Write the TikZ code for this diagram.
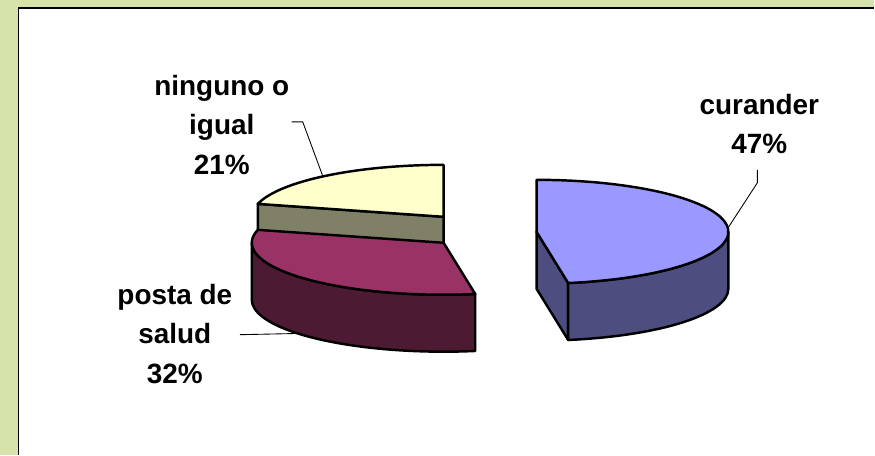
\documentclass[tikz,border=0pt]{standalone}
\usepackage{fontspec}
\setmainfont{Liberation Sans}
\usetikzlibrary{calc}
\definecolor{fond}{RGB}{214,228,171}
\definecolor{jaune}{RGB}{255,255,204}
\definecolor{grisv}{RGB}{128,128,102}
\definecolor{rose}{RGB}{153,51,102}
\definecolor{roseb}{RGB}{77,26,51}
\definecolor{bleu}{RGB}{153,153,255}
\definecolor{bleub}{RGB}{77,77,128}
\tikzset{
  part/.style={draw=black,line width=1.4pt,line join=round},
  lab/.style={align=center,inner sep=0pt,font=\bfseries\fontsize{15.9}{22.5}\selectfont},
  trait/.style={draw=black,line width=0.5pt}
}
\begin{document}
\begin{tikzpicture}[x=0.02cm,y=-0.02cm]
          %cadre
          \fill[fond] (0,0) rectangle (875,455);
          \fill[white] (18.5,8) rectangle (875,455);
          \draw[line width=0.9pt] (18.5,455) -- (18.5,8) -- (875,8);
          \useasboundingbox (0,0) rectangle (875,455);
          %centres des parts, rayons 192 et 52, epaisseur 57
          \coordinate (Y) at (444,217);
          \coordinate (M) at (444,243);
          \coordinate (B) at (537,232);
          \coordinate (Y1) at ($(Y)+({192*cos(165.6)},{-52*sin(165.6)})$);
          \coordinate (M1) at ($(M)+({192*cos(165.6)},{-52*sin(165.6)})$);
          \coordinate (B1) at ($(B)+({192*cos(279.5)},{-52*sin(279.5)})$);
          %part ninguno
          \path[part,fill=grisv] (Y) -- (Y1) -- ++(0,57) -- ($(Y)+(0,57)$) -- cycle;
          \path[part,fill=jaune] (Y) -- ($(Y)+(0,-52)$)
                arc[start angle=-90,end angle=-165.6,x radius=192,y radius=52] -- cycle;
          %part posta de salud
          \path[part,fill=roseb] ($(M)+(-192,0)$)
                arc[start angle=-180,end angle=-279.5,x radius=192,y radius=52] -- ++(0,57)
                arc[start angle=-279.5,end angle=-180,x radius=192,y radius=52] -- cycle;
          \path[part,fill=rose] (M) -- (M1)
                arc[start angle=-165.6,end angle=-279.5,x radius=192,y radius=52] -- cycle;
          %part curander
          \path[part,fill=bleub] (B) -- (B1) -- ++(0,57) -- ($(B)+(0,57)$) -- cycle;
          \path[part,fill=bleub] (B1)
                arc[start angle=-279.5,end angle=-360,x radius=192,y radius=52] -- ++(0,57)
                arc[start angle=-360,end angle=-279.5,x radius=192,y radius=52] -- cycle;
          \path[part,fill=bleu] (B) -- (B1)
                arc[start angle=-279.5,end angle=-450,x radius=192,y radius=52] -- cycle;
          %etiquettes
          \node[lab] (ninguno) at (222,125) {ninguno o\\igual\\21\%};
          \node[lab] (posta) at (175,334) {posta de\\salud\\32\%};
          \node[lab] (curander) at (760,124) {curander\\47\%};
          %traits de rappel
          \coordinate (n1) at (292,122);
          \coordinate (n2) at (303,122);
          \coordinate (Yn) at ($(Y)+({192*cos(129)},{-52*sin(129)})$);
          \coordinate (p1) at (240,335);
          \coordinate (Mp) at ($(M)+({192*cos(220.5)},{-52*sin(220.5)+57})$);
          \coordinate (c1) at (758,170);
          \coordinate (c2) at (758,183);
          \coordinate (Bc) at ($(B)+({192*cos(4)},{-52*sin(4)})$);
          \draw[trait] (n1) -- (n2) -- (Yn)
                (p1) -- (Mp)
                (c1) -- (c2) -- (Bc);
\end{tikzpicture}
\end{document}
